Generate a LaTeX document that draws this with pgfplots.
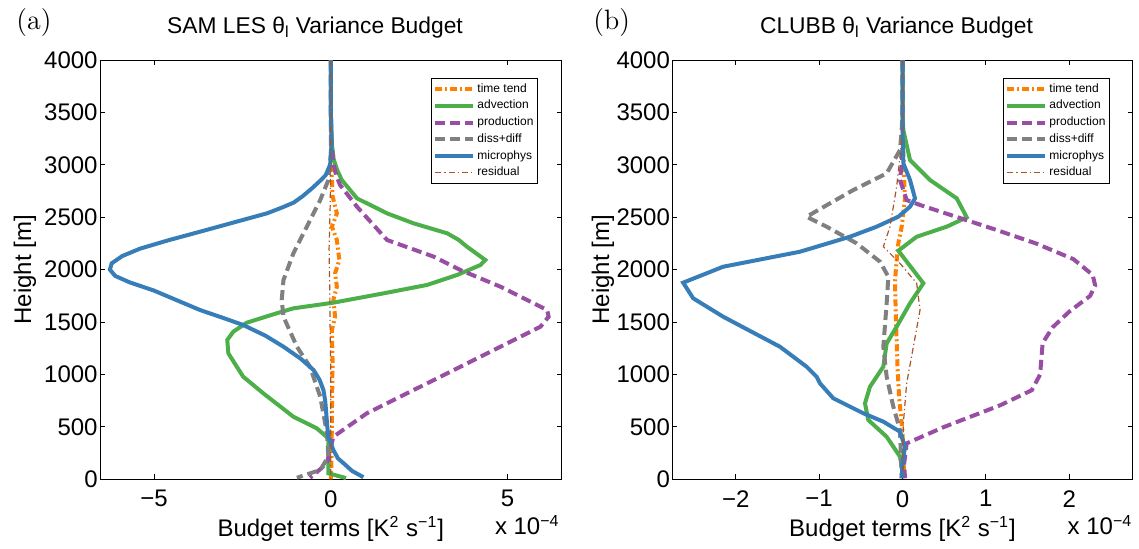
\documentclass[border=0pt]{standalone}
\usepackage{fontspec}
\setmainfont{Liberation Sans}
\newfontfamily\lmr{Latin Modern Roman}
\usepackage{pgfplots}
\usepackage{pgfplotstable}
\pgfplotsset{compat=1.18}
\definecolor{cOr}{RGB}{255,127,0}
\definecolor{cGr}{RGB}{77,175,74}
\definecolor{cPu}{RGB}{152,78,163}
\definecolor{cGy}{RGB}{128,128,128}
\definecolor{cBl}{RGB}{55,126,184}
\definecolor{cBr}{RGB}{166,86,40}

% ---------------- SAM LES ----------------
\pgfplotstableread{
h x
4000 0
3500 0
3000 0.01
2855 0.03
2700 0.05
2537 0.17
2410 0.03
2283 0.17
2092 0.24
1965 0.12
1837 0.17
1711 0.07
1551 0.12
1424 0.03
1106 0.05
630 0.03
200 0.02
0 0.0
}\samTT
\pgfplotstableread{
h x
4000 0
3500 0
3200 0.03
3050 0.08
2950 0.18
2855 0.31
2680 0.74
2537 1.59
2442 2.34
2347 3.29
2283 3.62
2219 3.85
2092 4.37
2044 4.23
1949 3.57
1854 2.72
1774 1.49
1685 0.07
1631 -1.06
1584 -1.53
1494 -2.38
1408 -2.76
1329 -2.93
1202 -2.90
1074 -2.66
979 -2.48
820 -1.91
597 -1.06
487 -0.40
391 -0.07
200 -0.07
57 -0.07
12 0.43
}\samADV
\pgfplotstableread{
h x
4000 0
3500 0
3200 0.02
3000 0.08
2900 0.15
2808 0.26
2600 0.74
2283 1.59
2124 2.91
1997 3.66
1837 4.80
1615 6.12
1551 6.16
1456 5.93
1265 4.80
947 2.91
630 1.02
406 0.07
153 -0.11
41 -0.49
15 -0.59
}\samPR
\pgfplotstableread{
h x
4000 0
3500 0
3100 0
2855 -0.07
2664 -0.30
2410 -0.68
2156 -1.06
1901 -1.34
1711 -1.39
1551 -1.34
1265 -0.96
1074 -0.59
788 -0.30
439 -0.11
216 -0.07
89 -0.30
15 -0.96
}\samDD
\pgfplotstableread{
h x
4000 0
3500 0
3200 0.02
3000 -0.02
2900 -0.15
2855 -0.28
2780 -0.52
2700 -0.80
2640 -1.05
2590 -1.40
2537 -1.81
2450 -2.75
2362 -3.70
2280 -4.6
2200 -5.4
2130 -5.9
2060 -6.2
2000 -6.25
1940 -6.1
1880 -5.7
1800 -5.0
1700 -4.3
1615 -3.70
1540 -3.05
1472 -2.48
1370 -1.85
1265 -1.34
1150 -0.85
1043 -0.49
950 -0.32
852 -0.21
750 -0.16
630 -0.13
500 -0.10
406 -0.07
280 0.07
200 0.20
153 0.36
80 0.6
20 0.92
}\samMP
\pgfplotstableread{
h x
4000 0
3000 0
2600 -0.02
2200 -0.05
1800 -0.03
1400 -0.02
1000 0.0
500 0.0
0 0.0
}\samRS

% ---------------- CLUBB ----------------
\pgfplotstableread{
h x
4000 0
3331 0
2855 0.02
2680 0.03
2410 -0.01
2251 -0.05
2000 -0.08
1870 -0.09
1551 -0.08
1074 -0.06
773 -0.04
454 0.0
10 0.02
}\clTT
\pgfplotstableread{
h x
4000 0
3500 0
3331 0.01
3046 0.09
2855 0.33
2680 0.65
2499 0.77
2410 0.53
2314 0.17
2181 -0.05
1870 0.25
1679 0.09
1456 -0.07
1297 -0.19
1074 -0.23
883 -0.39
725 -0.45
566 -0.41
406 -0.19
216 -0.03
25 0.01
}\clADV
\pgfplotstableread{
h x
4000 0
3500 0
3000 -0.01
2855 -0.03
2664 0.05
2617 0.21
2378 1.13
2250 1.6
2100 2.05
1950 2.28
1850 2.31
1750 2.25
1600 2.0
1450 1.8
1300 1.68
1000 1.65
850 1.55
706 1.17
500 0.5
343 0.05
150 0.02
10 0.03
}\clPR
\pgfplotstableread{
h x
4000 0
3500 0
3331 -0.01
3141 -0.03
2919 -0.19
2760 -0.59
2505 -1.15
2410 -0.91
2251 -0.55
2076 -0.27
1933 -0.17
1679 -0.19
1265 -0.23
979 -0.19
693 -0.11
470 -0.03
10 -0.01
}\clDD
\pgfplotstableread{
h x
4000 0
3500 0
3331 0
3015 0.01
2855 0.09
2680 0.15
2601 0.09
2505 -0.05
2410 -0.31
2314 -0.63
2171 -1.23
2028 -2.15
1876 -2.63
1727 -2.51
1551 -2.15
1265 -1.47
1074 -1.15
979 -1.03
916 -0.99
773 -0.83
630 -0.47
550 -0.23
454 -0.03
311 0.03
153 0
10 -0.01
}\clMP
\pgfplotstableread{
h x
4000 0
3300 0
2792 -0.07
2601 -0.11
2410 -0.15
2219 -0.23
2060 -0.03
1870 0.17
1615 0.21
1265 0.13
916 0.05
534 0.01
10 0
}\clRS

\pgfplotsset{
  budget/.style={
    scale only axis, height=209.65pt,
    ymin=0, ymax=4000, ytick={0,500,...,4000},
    tick align=inside, major tick length=2.5pt,
    axis line style={line width=0.5pt},
    every tick/.style={line width=0.5pt, black},
    tick label style={font=\fontsize{12}{14}\selectfont},
    /pgf/number format/assume math mode=true,
    /pgf/number format/1000 sep={},
    yticklabel style={inner sep=1pt},
    xticklabel style={yshift=-2pt},
    clip=false,
    legend cell align=left,
    legend style={font=\fontsize{6}{7}\selectfont, draw=black, line width=0.5pt,
      inner xsep=1pt, inner ysep=1.5pt, row sep=0.5pt,
      nodes={inner sep=1pt}},
    legend image code/.code={\draw[##1] (0pt,0pt) -- (19pt,0pt);},
  },
  sTT/.style={color=cOr, line width=2pt, dash pattern=on 3.5pt off 1.5pt on 1pt off 1.5pt},
  sADV/.style={color=cGr, line width=2pt},
  sPR/.style={color=cPu, line width=2pt, dash pattern=on 5pt off 2.5pt},
  sDD/.style={color=cGy, line width=2pt, dash pattern=on 5pt off 2.5pt},
  sMP/.style={color=cBl, line width=2pt},
  sRS/.style={color=cBr, line width=0.6pt, dash pattern=on 3pt off 1.5pt on 0.6pt off 1.5pt},
}

\begin{document}
\begin{tikzpicture}
\useasboundingbox (-50pt,-34.35pt) rectangle (519.5pt,239.65pt);
\begin{axis}[budget, at={(0pt,0pt)}, anchor=south west, width=230.85pt,
  xmin=-6.53, xmax=6.53, xtick={-5,0,5}, xticklabels={−5,0,5},
  legend style={at={(rel axis cs:0.9487,0.957)}, anchor=north east}]
\addplot[sTT] table[x=x,y=h] {\samTT};
\addplot[sADV] table[x=x,y=h] {\samADV};
\addplot[sPR] table[x=x,y=h] {\samPR};
\addplot[sDD] table[x=x,y=h] {\samDD};
\addplot[sMP] table[x=x,y=h] {\samMP};
\addplot[sRS] table[x=x,y=h] {\samRS};
\legend{time tend,advection,production,diss+diff,microphys,residual}
\end{axis}
\begin{axis}[budget, at={(286.15pt,0pt)}, anchor=south west, width=230.2pt,
  xmin=-2.76, xmax=2.76, xtick={-2,-1,0,1,2}, xticklabels={−2,−1,0,1,2},
  legend style={at={(rel axis cs:0.9507,0.957)}, anchor=north east}]
\addplot[sTT] table[x=x,y=h] {\clTT};
\addplot[sADV] table[x=x,y=h] {\clADV};
\addplot[sPR] table[x=x,y=h] {\clPR};
\addplot[sDD] table[x=x,y=h] {\clDD};
\addplot[sMP] table[x=x,y=h] {\clMP};
\addplot[sRS] table[x=x,y=h] {\clRS};
\legend{time tend,advection,production,diss+diff,microphys,residual}
\end{axis}
% labels
\node[font=\lmr\fontsize{14}{16}\selectfont, anchor=base west, inner sep=0] at (-42pt,225pt) {(a)};
\node[font=\lmr\fontsize{14}{16}\selectfont, anchor=base west, inner sep=0] at (246.5pt,225pt) {(b)};
\node[font=\fontsize{11.4}{14}\selectfont, anchor=base, inner sep=0] at (107.5pt,222.85pt) {SAM LES θ\textsubscript{l} Variance Budget};
\node[font=\fontsize{11.4}{14}\selectfont, anchor=base, inner sep=0] at (398.25pt,222.85pt) {CLUBB θ\textsubscript{l} Variance Budget};
\node[font=\fontsize{12}{14}\selectfont, anchor=base, inner sep=0] at (115.4pt,-28.65pt) {Budget terms [K\textsuperscript{2} s\textsuperscript{−1}]};
\node[font=\fontsize{12}{14}\selectfont, anchor=base, inner sep=0] at (401.25pt,-28.65pt) {Budget terms [K\textsuperscript{2} s\textsuperscript{−1}]};
\node[font=\fontsize{12}{14}\selectfont, anchor=base east, inner sep=0] at (230pt,-27.7pt) {x 10\textsuperscript{−4}};
\node[font=\fontsize{12}{14}\selectfont, anchor=base east, inner sep=0] at (516.35pt,-27.7pt) {x 10\textsuperscript{−4}};
\node[font=\fontsize{12}{14}\selectfont, rotate=90, inner sep=0] at (-37.5pt,104.8pt) {Height [m]};
\node[font=\fontsize{12}{14}\selectfont, rotate=90, inner sep=0] at (251.5pt,104.8pt) {Height [m]};
\end{tikzpicture}
\end{document}
